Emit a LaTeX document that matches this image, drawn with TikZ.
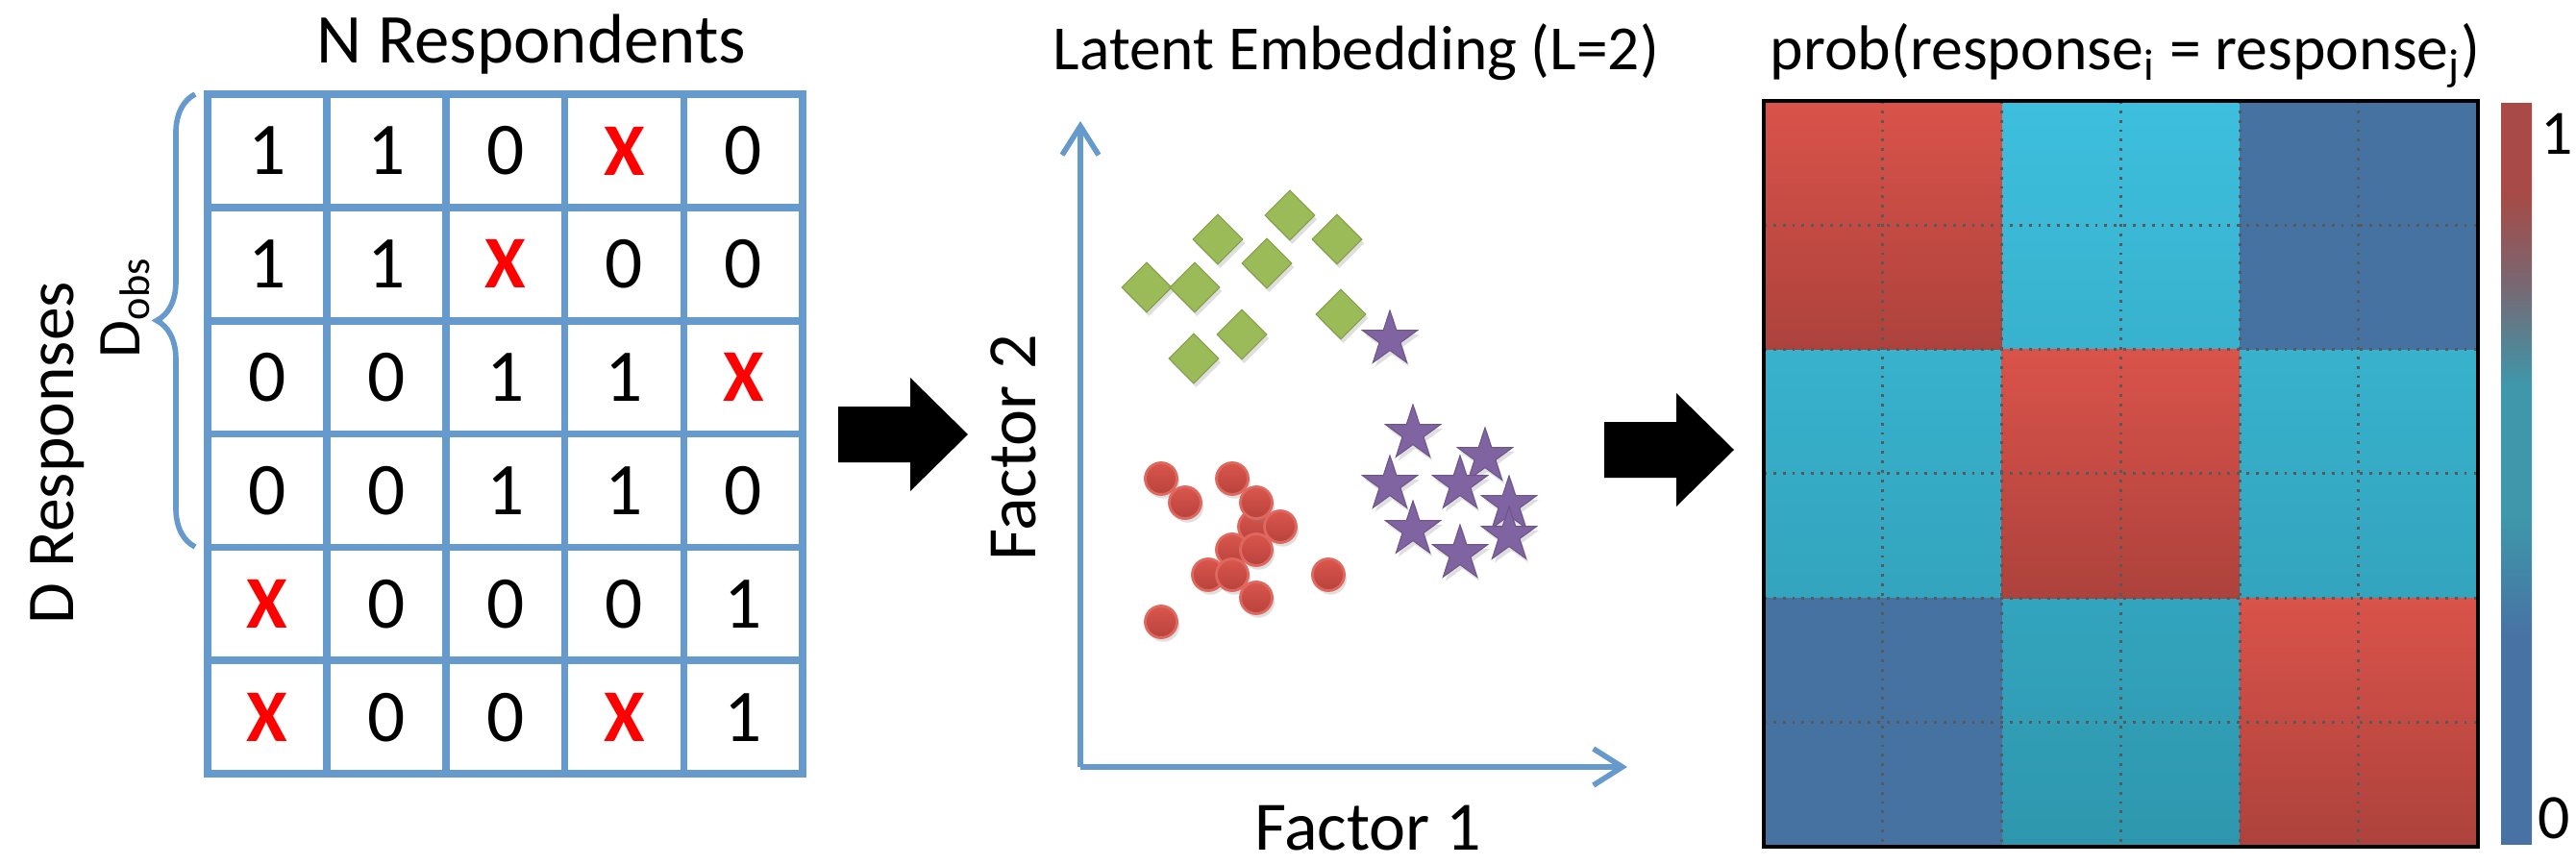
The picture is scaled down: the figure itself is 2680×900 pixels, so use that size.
\documentclass[tikz,border=0pt]{standalone}
\usepackage{fontspec}
\setmainfont{Carlito}
\usetikzlibrary{arrows.meta,shapes.geometric,decorations.pathreplacing,shadows}

\definecolor{lineblue}{RGB}{102,153,204}
\definecolor{missred}{RGB}{255,0,0}
\definecolor{leafgreen}{RGB}{155,187,89}
\definecolor{starpurple}{RGB}{128,100,162}
\definecolor{dotred}{RGB}{218,86,76}
\definecolor{dotreddark}{RGB}{184,66,60}
\definecolor{hmred}{RGB}{217,83,74}
\definecolor{hmreddark}{RGB}{173,66,60}
\definecolor{hmcyan}{RGB}{61,191,221}
\definecolor{hmcyandark}{RGB}{46,151,174}
\definecolor{hmblue}{RGB}{69,114,160}
\definecolor{cbred}{RGB}{168,74,69}
\definecolor{cbgray}{RGB}{122,102,112}
\definecolor{cbteal}{RGB}{62,151,170}
\definecolor{cbblue}{RGB}{72,114,163}

\pgfdeclareverticalshading{cbar}{100bp}{color(0bp)=(cbblue); color(25bp)=(cbblue); color(39bp)=(cbblue); color(47bp)=(cbteal); color(56bp)=(cbteal); color(63bp)=(cbgray); color(69bp)=(cbred); color(75bp)=(cbred); color(100bp)=(cbred)}

\newcommand{\miss}{\textcolor{missred}{\textbf{X}}}

\tikzset{
  gridline/.style={lineblue, line width=2.2pt, line cap=rect},
  axisline/.style={lineblue, line width=1.6pt, -{Straight Barb[length=0.3cm, width=0.38cm, line width=1.6pt]}},
  cell/.style={font=\fontsize{22}{26}\selectfont},
  title/.style={font=\fontsize{20.7}{24}\selectfont, anchor=base},
  softshadow/.style={drop shadow={shadow xshift=0.7pt, shadow yshift=-1.2pt, opacity=0.25}},
  gem/.style={diamond, fill=leafgreen, draw=leafgreen!85!black, line width=0.3pt, inner sep=0pt, minimum size=0.52cm, softshadow},
  pstar/.style={star, star points=5, star point ratio=2.6, fill=starpurple, draw=starpurple!85!black, line width=0.3pt, inner sep=0pt, minimum size=0.6cm, softshadow},
  ball/.style={circle, inner sep=0pt, minimum size=0.33cm, top color=dotred, bottom color=dotreddark, draw=dotred!90!white, line width=0.8pt, softshadow},
  hmgrid/.style={gray!70!black, line width=0.8pt, dash pattern=on 0.8pt off 2pt},
  bigarrow/.pic={\fill (0,-29) -- (75,-29) -- (75,-59) -- (135,0) -- (75,59) -- (75,29) -- (0,29) -- cycle;}
}

\begin{document}
\begin{tikzpicture}[x=0.01cm, y=-0.01cm]
    \useasboundingbox (0,0) rectangle (2680,900);

    \begin{scope}[shift={(216,98)}, x=1.238cm, y=-1.178cm]
      \foreach \c in {0,...,5} \draw[gridline] (\c,0) -- (\c,6);
      \foreach \r in {0,...,6} \draw[gridline] (0,\r) -- (5,\r);
      \foreach \row [count=\r] in {{1,1,0,\miss,0},{1,1,\miss,0,0},{0,0,1,1,\miss},{0,0,1,1,0},{\miss,0,0,0,1},{\miss,0,0,\miss,1}}
        \foreach \v [count=\c] in \row
          \node[cell] (m\r\c) at (\c-0.5,\r-0.5) {\v};
    \end{scope}
    \coordinate (bbot) at (203,569);
    \coordinate (btop) at (203,98);
    \draw[lineblue, line width=1.6pt, decorate, decoration={brace, amplitude=0.4cm}] (bbot) -- (btop);
    \node[title] (resp) at (553,65) {N Respondents};
    \node[title, rotate=90, font=\fontsize{19.8}{24}\selectfont] (dresp) at (76,471) {D Responses};
    \node[rotate=90, anchor=base, font=\fontsize{18}{22}\selectfont] (dobs) at (146,320) {D\textsubscript{obs}};

    \pic (arrowa) at (872,452) {bigarrow};
    \pic (arrowb) at (1669,468) {bigarrow};

    \coordinate (o) at (1124,798);
    \coordinate (ytop) at (1124,126);
    \coordinate (xend) at (1693,798);
    \draw[axisline] (o) -- (ytop);
    \draw[axisline] (o) -- (xend);
    \node[title, font=\fontsize{18.6}{22}\selectfont] (latent) at (1411,73) {Latent Embedding (L=2)};
    \node[title, font=\fontsize{20.5}{24}\selectfont] (fa) at (1423,884) {Factor 1};
    \node[title, rotate=90, font=\fontsize{20.5}{24}\selectfont] (fb) at (1077,466) {Factor 2};
    \foreach \p [count=\i] in {(1342,224),(1267,249),(1391,249),(1318,274),(1193,299),(1243,299),(1292,348),(1395,327),(1242,373)}
      \node[gem] (g\i) at \p {};
    \foreach \p [count=\i] in {(1446,353),(1470,451),(1545,475),(1446,504),(1519,504),(1570,525),(1470,551),(1570,557),(1519,576)}
      \node[pstar] (s\i) at \p {};
    \foreach \p [count=\i] in {(1305,548),(1282,572),(1257,598),(1208,498),(1282,498),(1233,523),(1307,523),(1332,548),(1307,572),(1282,598),(1382,598),(1307,622),(1208,647)}
      \node[ball] (b\i) at \p {};

    \begin{scope}[shift={(1835,105)}, x=1.237cm, y=-1.292cm]
      \fill[top color=hmcyan, bottom color=hmcyandark] (0,0) rectangle (6,6);
      \foreach \bx/\by in {0/0,2/2,4/4}
        \fill[top color=hmred, bottom color=hmreddark] (\bx,\by) rectangle ++(2,2);
      \foreach \bx/\by in {4/0,0/4}
        \fill[hmblue] (\bx,\by) rectangle ++(2,2);
      \foreach \k in {1,...,5} {
        \draw[hmgrid] (\k,0) -- (\k,6);
        \draw[hmgrid] (0,\k) -- (6,\k);
      }
      \draw[line width=1.1pt] (0,0) rectangle (6,6);
    \end{scope}
    \shade[shading=cbar] (2602,107) rectangle (2634,878);
    \node[title, font=\fontsize{18.7}{22}\selectfont] (one) at (2660,160) {1};
    \node[title, font=\fontsize{18.7}{22}\selectfont] (zero) at (2657,872) {0};
    \node[title, font=\fontsize{18.7}{22}\selectfont] (prob) at (2211,73) {prob(response\textsubscript{i} = response\textsubscript{j})};
\end{tikzpicture}
\end{document}
